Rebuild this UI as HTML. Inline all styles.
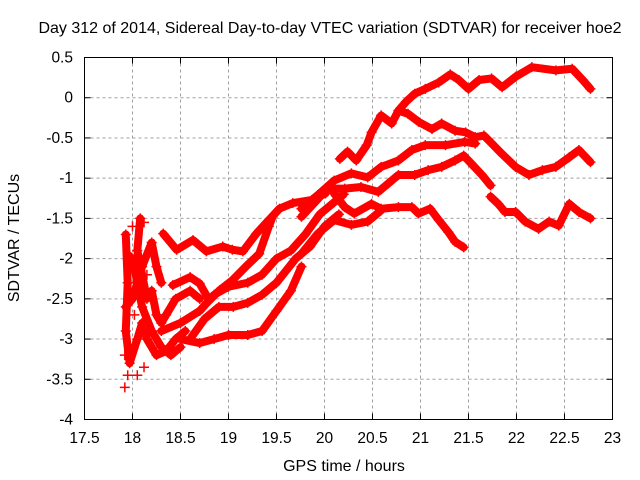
<!DOCTYPE html>
<html><head><meta charset="utf-8"><style>
html,body{margin:0;padding:0;background:#fff;}
svg{display:block;font-family:"Liberation Sans",Arial,sans-serif;}
</style></head><body>
<svg id="chart" width="640" height="480">
<text x="330" y="33" font-size="16" text-anchor="middle">Day 312 of 2014, Sidereal Day-to-day VTEC variation (SDTVAR) for receiver hoe2</text>
<text x="344" y="471" font-size="16" text-anchor="middle">GPS time / hours</text>
<text transform="translate(19,238) rotate(-90)" font-size="16" text-anchor="middle">SDTVAR / TECUs</text>
<g id="grid"></g><g id="marks"></g>
<rect x="84.5" y="57.5" width="528" height="362" fill="none" stroke="#000" stroke-width="1"/>
<g id="axes"></g>
</svg>
<script>
const xTicks=[17.5,18,18.5,19,19.5,20,20.5,21,21.5,22,22.5,23];
const yTicks=[0.5,0,-0.5,-1,-1.5,-2,-2.5,-3,-3.5,-4];
const trackA=[[20.16,-0.76],[20.24,-0.67],[20.33,-0.78],[20.44,-0.59],[20.49,-0.43],[20.59,-0.22],[20.70,-0.32],[20.77,-0.16],[20.85,-0.05],[20.94,0.05],[21.05,0.11],[21.19,0.19],[21.31,0.29],[21.40,0.22],[21.50,0.11],[21.61,0.22],[21.74,0.24],[21.85,0.13],[21.99,0.26],[22.16,0.38],[22.41,0.34],[22.58,0.36],[22.69,0.22],[22.77,0.11]];
const trackB=[[20.77,-0.16],[20.87,-0.2],[20.98,-0.3],[21.12,-0.39],[21.22,-0.32],[21.36,-0.41],[21.47,-0.43],[21.57,-0.49],[21.66,-0.47],[21.71,-0.53],[21.85,-0.70],[21.99,-0.86],[22.13,-0.96],[22.27,-0.90],[22.41,-0.86],[22.55,-0.74],[22.65,-0.65],[22.77,-0.80]];
const trackC=[[19.76,-1.38],[19.93,-1.21],[20.10,-1.03],[20.28,-0.94],[20.45,-0.99],[20.59,-0.86],[20.77,-0.78],[20.91,-0.65],[21.05,-0.59],[21.26,-0.59],[21.46,-0.55],[21.57,-0.57]];
const trackD=[[19.76,-1.48],[19.9,-1.3],[20.03,-1.13],[20.21,-1.13],[20.38,-1.11],[20.56,-1.17],[20.66,-1.07],[20.77,-0.96],[20.94,-0.96],[21.08,-0.90],[21.22,-0.86],[21.36,-0.78],[21.45,-0.72],[21.53,-0.82],[21.64,-0.96],[21.73,-1.09]];
const trackE=[[21.73,-1.23],[21.81,-1.32],[21.88,-1.42],[21.99,-1.42],[22.09,-1.54],[22.23,-1.63],[22.34,-1.54],[22.44,-1.59],[22.55,-1.32],[22.65,-1.42],[22.77,-1.50]];
const trackF=[[20.10,-1.19],[20.21,-1.36],[20.31,-1.44],[20.49,-1.32],[20.59,-1.38],[20.77,-1.36],[20.91,-1.36],[20.98,-1.44],[21.10,-1.38],[21.19,-1.52],[21.29,-1.67],[21.36,-1.79],[21.45,-1.86]];
const trackG=[[19.76,-1.94],[19.93,-1.69],[20.10,-1.52],[20.28,-1.58],[20.45,-1.54],[20.59,-1.40]];
const trackH=[[18.32,-1.69],[18.46,-1.89],[18.63,-1.77],[18.77,-1.91],[18.94,-1.85],[19.04,-1.89],[19.15,-1.91],[19.29,-1.69],[19.39,-1.56],[19.53,-1.38],[19.67,-1.31],[19.87,-1.27],[20.01,-1.19]];
const trackI=[[18.42,-2.33],[18.60,-2.23],[18.70,-2.31],[18.80,-2.52],[18.91,-2.39],[19.04,-2.27],[19.18,-2.10],[19.32,-1.94],[19.42,-1.60],[19.46,-1.48]];
const trackJ=[[18.3,-2.9],[18.5,-2.8],[18.7,-2.65],[18.85,-2.45],[19.0,-2.35],[19.2,-2.3],[19.35,-2.2],[19.5,-2.0],[19.65,-1.9],[19.8,-1.7],[19.95,-1.45],[20.1,-1.3],[20.2,-1.2]];
const trackK=[[18.6,-3.0],[18.75,-2.75],[18.9,-2.6],[19.05,-2.6],[19.2,-2.55],[19.35,-2.45],[19.5,-2.3],[19.7,-2.0],[19.85,-1.85],[20.0,-1.6],[20.15,-1.45]];
const trackL=[[18.5,-3.0],[18.7,-3.05],[18.85,-3.0],[19.0,-2.95],[19.2,-2.95],[19.35,-2.9],[19.5,-2.65],[19.65,-2.4],[19.76,-2.1]];
const trackM=[[17.93,-1.7],[17.95,-2.3],[17.93,-2.9],[17.97,-3.3],[18.05,-3.0],[18.1,-2.8],[18.15,-3.0],[18.25,-3.2],[18.35,-3.15],[18.45,-3.0],[18.55,-2.9]];
const trackN=[[18.08,-1.5],[18.05,-1.9],[18.1,-2.2],[18.15,-2.5],[18.2,-2.4],[18.25,-2.7],[18.3,-2.8],[18.35,-2.7],[18.45,-2.5],[18.6,-2.4],[18.7,-2.5]];
const trackO=[[17.95,-1.95],[18.0,-2.0],[18.05,-2.3],[18.1,-2.6],[18.2,-2.9],[18.3,-3.1],[18.4,-3.2],[18.5,-3.1]];
const trackP=[[17.93,-2.6],[18.0,-2.5],[18.1,-2.1],[18.2,-1.8],[18.25,-2.1],[18.3,-2.3]];
const scatterPts=[[17.92,-3.6],[17.95,-3.45],[18.05,-3.45],[18.12,-3.35],[17.92,-3.2],[18.0,-1.6],[18.12,-1.55],[18.02,-2.7],[18.15,-2.2]];
const tracks=[trackA,trackB,trackC,trackD,trackE,trackF,trackG,trackH,trackI,trackJ,trackK,trackL,trackM,trackN,trackO,trackP];
const NS='http://www.w3.org/2000/svg';
const X0=84.5,X1=612.5,Y0=57.5,Y1=419.5;
function sx(v){return X0+(v-17.5)/5.5*(X1-X0);}
function sy(v){return Y0+(0.5-v)/4.5*(Y1-Y0);}
const grid=document.getElementById('grid'),axes=document.getElementById('axes'),marks=document.getElementById('marks');
function mk(tag,attrs,parent){const e=document.createElementNS(NS,tag);for(const k in attrs)e.setAttribute(k,attrs[k]);parent.appendChild(e);return e;}
xTicks.forEach(t=>{const x=sx(t);
 if(t>17.5&&t<23){const g=mk('line',{x1:x,x2:x,y1:Y0,y2:Y1,stroke:'#a0a0a0','stroke-dasharray':'3,3'},grid);
 
 }
 const a=mk('line',{x1:x,x2:x,y1:Y1,y2:Y1-6,stroke:'#000'},axes);
 const b=mk('line',{x1:x,x2:x,y1:Y0,y2:Y0+6,stroke:'#000'},axes);
 const l=mk('text',{x:x,y:443,'font-size':15.5,'text-anchor':'middle'},axes);l.textContent=String(t);
 
 });
yTicks.forEach(t=>{const y=sy(t);
 if(t<0.5&&t>-4){const g=mk('line',{x1:X0,x2:X1,y1:y,y2:y,stroke:'#a0a0a0','stroke-dasharray':'3,3'},grid);
 
 }
 const a=mk('line',{x1:X0,x2:X0+6,y1:y,y2:y,stroke:'#000'},axes);
 const b=mk('line',{x1:X1,x2:X1-6,y1:y,y2:y,stroke:'#000'},axes);
 const l=mk('text',{x:73,y:y+5,'font-size':15.5,'text-anchor':'end'},axes);l.textContent=String(t);
 
 });
function plus(x,y){const p=mk('path',{d:`M${x-5},${y}h10M${x},${y-5}v10`,stroke:'#f00','stroke-width':1.5,fill:'none'},marks);
 
 }
tracks.forEach(tr=>{
 const pl=mk('polyline',{points:tr.map(p=>sx(p[0])+','+sy(p[1])).join(' '),fill:'none',stroke:'#f00','stroke-width':8,'stroke-linejoin':'round','stroke-linecap':'round'},marks);
 
 
 tr.forEach(p=>plus(sx(p[0]),sy(p[1])));});
scatterPts.forEach(p=>plus(sx(p[0]),sy(p[1])));
</script>
</body></html>
